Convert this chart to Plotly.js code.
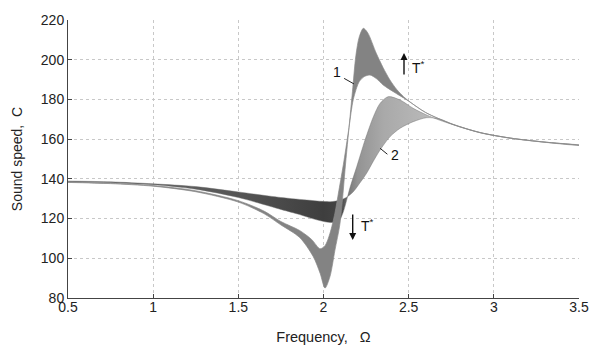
<!DOCTYPE html>
<html><head><meta charset="utf-8">
<script src="https://cdn.plot.ly/plotly-3.0.1.min.js"></script>
<style>html,body{margin:0;padding:0;background:#fff}#chart{width:590px;height:345px}</style>
</head><body><div id="chart"></div>
<script>
// Family 1 (strong resonance): outer curve (higher T*) and inner curve (lower T*)
const f1OuterX = [0.5, 0.75, 1.0, 1.25, 1.5, 1.65, 1.75, 1.86, 1.94, 1.98, 2.009, 2.038, 2.067, 2.097, 2.13, 2.15, 2.17, 2.19, 2.21, 2.234, 2.26, 2.31, 2.35, 2.39, 2.43, 2.47, 2.51, 2.6, 2.76, 2.92, 3.1, 3.3, 3.5];
const f1OuterY = [138.2, 137.6, 136.3, 133.5, 128.3, 122.5, 116.8, 110.5, 100.8, 92.5, 85, 90.8, 104, 117.6, 148, 166, 184, 202, 211.5, 215.8, 213.5, 203.2, 196, 189.8, 185, 181.4, 178.6, 173.4, 167.4, 163.3, 160.5, 158.5, 157];
const f1InnerX = [0.5, 0.75, 1.0, 1.25, 1.5, 1.65, 1.75, 1.86, 1.93, 1.98, 2.01, 2.038, 2.067, 2.09, 2.12, 2.15, 2.175, 2.21, 2.24, 2.273, 2.31, 2.35, 2.41, 2.49, 2.6, 2.76, 2.92, 3.1, 3.3, 3.5];
const f1InnerY = [138.4, 137.8, 136.6, 134, 129.0, 123.8, 118.5, 114, 109.5, 104.8, 106.5, 112.6, 122.7, 134, 149, 166, 180, 189, 191.5, 192.3, 190.5, 187.3, 183.9, 179.7, 173.4, 167.4, 163.3, 160.5, 158.5, 157];
// Family 2 (weak resonance): deep-dip curve and shallow-dip curve
const f2DeepX = [0.5, 0.75, 1.0, 1.25, 1.5, 1.75, 1.86, 1.95, 2.04, 2.09, 2.115, 2.157, 2.195, 2.244, 2.293, 2.332, 2.38, 2.45, 2.527, 2.605, 2.68, 2.76, 2.92, 3.1, 3.3, 3.5];
const f2DeepY = [138.6, 138.1, 137.0, 134.8, 130.6, 124.6, 122.0, 119.6, 118, 118.8, 123, 136, 146.1, 159.6, 171.3, 178, 181.4, 179.7, 175.5, 172.2, 169.6, 167.3, 163.2, 160.4, 158.4, 156.9];
const f2ShallowX = [0.5, 0.75, 1.0, 1.25, 1.5, 1.75, 1.92, 2.04, 2.1, 2.14, 2.175, 2.21, 2.253, 2.29, 2.332, 2.39, 2.45, 2.527, 2.605, 2.68, 2.76, 2.92, 3.1, 3.3, 3.5];
const f2ShallowY = [138.9, 138.5, 137.5, 136.1, 133.4, 130.6, 129.2, 128.5, 129.3, 131, 133.5, 137.5, 142.8, 148.5, 154.5, 161.2, 165.5, 168.8, 170.8, 170.2, 167.5, 163.3, 160.5, 158.5, 157.0];

const xTicks = [0.5, 1, 1.5, 2, 2.5, 3, 3.5];
const xTickText = ['0.5', '1', '1.5', '2', '2.5', '3', '3.5'];
const yTicks = [80, 100, 120, 140, 160, 180, 200, 220];
const yTickText = ['80', '100', '120', '140', '160', '180', '200', '220'];

function band(ax, ay, bx, by) {
  return { x: ax.concat(bx.slice().reverse()), y: ay.concat(by.slice().reverse()) };
}
const b1 = band(f1OuterX, f1OuterY, f1InnerX, f1InnerY);
const b2 = band(f2DeepX, f2DeepY, f2ShallowX, f2ShallowY);

const FONT = 'Liberation Sans, Arial, sans-serif';

const traces = [
  {
    x: b2.x, y: b2.y, type: 'scatter', mode: 'lines', fill: 'toself',
    line: { shape: 'spline', smoothing: 0.8, width: 0.6, color: 'rgba(110,110,110,0.75)' },
    fillcolor: '#777',
    fillgradient: {
      type: 'horizontal', start: 0.5, stop: 3.5,
      colorscale: [[0, '#6e6e6e'], [0.333, '#555555'], [0.5, '#3e3e3e'], [0.535, '#454545'],
                   [0.55, '#7a7a7a'], [0.567, '#939393'], [0.617, '#a9a9a9'], [0.7, '#b8b8b8'], [1, '#c0c0c0']]
    },
    hoverinfo: 'skip', showlegend: false
  },
  {
    x: b1.x, y: b1.y, type: 'scatter', mode: 'lines', fill: 'toself',
    line: { shape: 'spline', smoothing: 0.8, width: 0.7, color: '#8a8a8a' },
    fillcolor: '#838383',
    hoverinfo: 'skip', showlegend: false
  }
];

const annFont = { family: FONT, size: 14, color: '#111' };
const layout = {
  width: 590, height: 345,
  margin: { l: 68, r: 11, t: 20, b: 47 },
  paper_bgcolor: '#fff', plot_bgcolor: '#fff',
  font: { family: FONT, size: 14, color: '#222' },
  showlegend: false,
  xaxis: {
    range: [0.5, 3.5], tickvals: xTicks, ticktext: xTickText,
    showgrid: true, gridcolor: '#c8c8c8', griddash: 'dot', gridwidth: 1,
    zeroline: false, showline: true, linecolor: '#444', linewidth: 1,
    ticks: 'inside', ticklen: 4, tickcolor: '#444', ticklabelstandoff: -4,
    tickfont: { family: FONT, size: 14, color: '#222' },
    title: { text: 'Frequency,\u00a0\u00a0 \u03a9', font: { family: FONT, size: 14.5, color: '#222' }, standoff: 19 }
  },
  yaxis: {
    range: [80, 220], tickvals: yTicks, ticktext: yTickText,
    showgrid: true, gridcolor: '#c8c8c8', griddash: 'dot', gridwidth: 1,
    zeroline: false, showline: true, linecolor: '#444', linewidth: 1,
    ticks: 'inside', ticklen: 4, tickcolor: '#444',
    tickfont: { family: FONT, size: 14, color: '#222' },
    title: { text: 'Sound speed,\u00a0 C', font: { family: FONT, size: 14, color: '#222' }, standoff: 14 }
  },
  shapes: [
    { type: 'line', xref: 'x', yref: 'y', x0: 2.121, y0: 190.6, x1: 2.179, y1: 187.8, line: { color: '#222', width: 1 } },
    { type: 'line', xref: 'x', yref: 'y', x0: 2.332, y0: 155.4, x1: 2.375, y1: 152.4, line: { color: '#222', width: 1 } }
  ],
  annotations: [
    { x: 2.0763, y: 193.6, xref: 'x', yref: 'y', text: '1', showarrow: false, font: annFont },
    { x: 2.4198, y: 152.0, xref: 'x', yref: 'y', text: '2', showarrow: false, font: annFont },
    { x: 2.4726, y: 203.4, xref: 'x', yref: 'y', text: '', showarrow: true, ax: 0, ay: 23,
      arrowhead: 2, arrowsize: 1, arrowwidth: 1.4, arrowcolor: '#111' },
    { x: 2.1714, y: 109.2, xref: 'x', yref: 'y', text: '', showarrow: true, ax: 0, ay: -27,
      arrowhead: 2, arrowsize: 1, arrowwidth: 1.4, arrowcolor: '#111' },
    { x: 2.505, y: 196.5, xref: 'x', yref: 'y', text: 'T<sup>*</sup>', showarrow: false, xanchor: 'left', font: annFont },
    { x: 2.206, y: 116.8, xref: 'x', yref: 'y', text: 'T<sup>*</sup>', showarrow: false, xanchor: 'left', font: annFont }
  ]
};

Plotly.newPlot('chart', traces, layout, { staticPlot: true, displayModeBar: false });
</script>
</body></html>
